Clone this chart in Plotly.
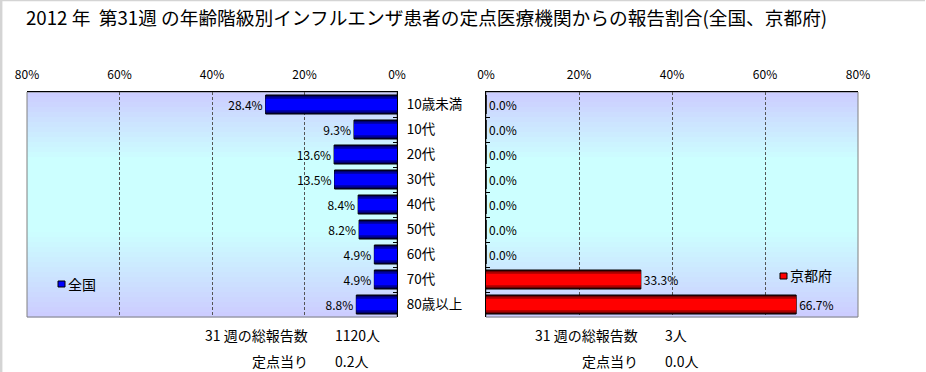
import plotly.graph_objects as go

# ---------------- data ----------------
categories = ["10歳未満", "10代", "20代", "30代", "40代", "50代", "60代", "70代", "80歳以上"]
national = [28.4, 9.3, 13.6, 13.5, 8.4, 8.2, 4.9, 4.9, 8.8]
kyoto = [0.0, 0.0, 0.0, 0.0, 0.0, 0.0, 0.0, 33.3, 66.7]
tick_vals = [0, 20, 40, 60, 80]
tick_text = ["0%", "20%", "40%", "60%", "80%"]
title_text = "2012 年  第31週 の年齢階級別インフルエンザ患者の定点医療機関からの報告割合(全国、京都府)"
series_names = ["全国", "京都府"]
total_label = "31 週の総報告数"
per_label = "定点当り"
national_total = "1120人"
national_per = "0.2人"
kyoto_total = "3人"
kyoto_per = "0.0人"

# ---------------- layout constants ----------------
W, H = 926, 372
FONT = "Noto Sans CJK JP, Noto Sans, sans-serif"
LX0, LX1 = 27, 397
RX0, RX1 = 486, 858
PY0, PY1 = 92, 317


def px_x(v):
    return v / W


def px_y(v):
    return 1 - v / H


fig = go.Figure()

# bar layers imitate the shaded (gradient) bars
blue_layers = [(0.76, "#000040", 1), (0.64, "#00009C", 0), (0.46, "#0000FF", 0)]
red_layers = [(0.76, "#400000", 1), (0.64, "#A80000", 0), (0.46, "#FF0000", 0)]

for i, (w, c, lw) in enumerate(blue_layers):
    fig.add_trace(go.Bar(
        x=national, y=categories, orientation="h", xaxis="x", yaxis="y",
        width=w, marker=dict(color=c, line=dict(color="black", width=lw)),
        text=[f"{v:.1f}%" for v in national] if i == 0 else None,
        textposition="outside" if i == 0 else "none",
        textfont=dict(family=FONT, size=12, color="black"),
        cliponaxis=False, showlegend=False, name=series_names[0],
        hoverinfo="x+y",
    ))
for i, (w, c, lw) in enumerate(red_layers):
    fig.add_trace(go.Bar(
        x=kyoto, y=categories, orientation="h", xaxis="x2", yaxis="y2",
        width=w, marker=dict(color=c, line=dict(color="black", width=lw)),
        text=[f"{v:.1f}%" for v in kyoto] if i == 0 else None,
        textposition="outside" if i == 0 else "none",
        textfont=dict(family=FONT, size=12, color="black"),
        cliponaxis=False, showlegend=False, name=series_names[1],
        hoverinfo="x+y",
    ))

shapes = []
# gradient plot backgrounds
stops = [(0.0, (204, 204, 255)), (0.30, (204, 255, 255)), (0.62, (204, 255, 255)), (1.0, (204, 204, 255))]


def col_at(t):
    for (t0, c0), (t1, c1) in zip(stops[:-1], stops[1:]):
        if t0 <= t <= t1:
            f = (t - t0) / (t1 - t0) if t1 > t0 else 0
            return "rgb(%d,%d,%d)" % tuple(round(a + (b - a) * f) for a, b in zip(c0, c1))
    return "rgb(204,204,255)"


N = 45
for xr, yr in (("x domain", "y domain"), ("x2 domain", "y2 domain")):
    for k in range(N):
        t = (k + 0.5) / N
        shapes.append(dict(type="rect", xref=xr, yref=yr, x0=0, x1=1,
                           y0=1 - k / N, y1=1 - (k + 1) / N - 0.002,
                           fillcolor=col_at(t), line=dict(width=0), layer="below"))
    shapes.append(dict(type="rect", xref=xr, yref=yr, x0=0, x1=1, y0=0, y1=1,
                       line=dict(color="#808080", width=1), layer="below"))

# page border (top / left)
shapes.append(dict(type="line", xref="paper", yref="paper", x0=0, x1=925 / W, y0=0.999, y1=0.999,
                   line=dict(color="#D4D4D4", width=2)))
shapes.append(dict(type="line", xref="paper", yref="paper", x0=0.001, x1=0.001, y0=0, y1=1,
                   line=dict(color="#D4D4D4", width=3)))

# legend squares
shapes.append(dict(type="rect", xref="paper", yref="paper",
                   x0=px_x(58), x1=px_x(65), y0=px_y(287), y1=px_y(281),
                   fillcolor="#0000FF", line=dict(color="black", width=1)))
shapes.append(dict(type="rect", xref="paper", yref="paper",
                   x0=px_x(780), x1=px_x(787), y0=px_y(279), y1=px_y(273),
                   fillcolor="#FF0000", line=dict(color="black", width=1)))

ann = []
ann.append(dict(text=title_text, x=px_x(24), y=px_y(17), xref="paper", yref="paper",
                xanchor="left", yanchor="middle", showarrow=False,
                font=dict(family=FONT, size=18.7, color="black")))
ann.append(dict(text=series_names[0], x=px_x(66), y=px_y(284), xref="paper", yref="paper",
                xanchor="left", yanchor="middle", showarrow=False,
                font=dict(family=FONT, size=14, color="black")))
ann.append(dict(text=series_names[1], x=px_x(788), y=px_y(275), xref="paper", yref="paper",
                xanchor="left", yanchor="middle", showarrow=False,
                font=dict(family=FONT, size=14, color="black")))
for lab_x, val_x, tot, per in ((310, 333, national_total, national_per),
                               (640, 663, kyoto_total, kyoto_per)):
    ann.append(dict(text=total_label, x=px_x(lab_x), y=px_y(335), xref="paper", yref="paper",
                    xanchor="right", yanchor="middle", showarrow=False,
                    font=dict(family=FONT, size=14, color="black")))
    ann.append(dict(text=tot, x=px_x(val_x), y=px_y(335), xref="paper", yref="paper",
                    xanchor="left", yanchor="middle", showarrow=False,
                    font=dict(family=FONT, size=14, color="black")))
    ann.append(dict(text=per_label, x=px_x(lab_x), y=px_y(361), xref="paper", yref="paper",
                    xanchor="right", yanchor="middle", showarrow=False,
                    font=dict(family=FONT, size=14, color="black")))
    ann.append(dict(text=per, x=px_x(val_x), y=px_y(361), xref="paper", yref="paper",
                    xanchor="left", yanchor="middle", showarrow=False,
                    font=dict(family=FONT, size=14, color="black")))

xcommon = dict(tickvals=tick_vals, ticktext=tick_text, side="top", showgrid=True,
               gridcolor="#555555", griddash="3px,2px", gridwidth=1, zeroline=False,
               showline=True, linecolor="black", linewidth=1, ticks="",
               ticklabelstandoff=7, fixedrange=True, automargin=False,
               tickfont=dict(family=FONT, size=12, color="black"))

fig.update_layout(
    width=W, height=H, autosize=False,
    margin=dict(l=0, r=0, t=0, b=0, pad=0, autoexpand=False),
    paper_bgcolor="white", plot_bgcolor="rgba(0,0,0,0)",
    barmode="overlay", bargap=0.24,
    showlegend=False,
    font=dict(family=FONT, size=12, color="black"),
    xaxis=dict(domain=[px_x(LX0), px_x(LX1)], range=[80, 0], anchor="y", **xcommon),
    xaxis2=dict(domain=[px_x(RX0), px_x(RX1)], range=[0, 80], anchor="y2", **xcommon),
    yaxis=dict(domain=[px_y(PY1), px_y(PY0)], anchor="x", side="right",
               categoryorder="array", categoryarray=categories, autorange="reversed",
               showline=True, linecolor="black", linewidth=1, showgrid=False,
               ticks="inside", ticklen=4, tickcolor="black", tickson="boundaries",
               ticklabelstandoff=6, fixedrange=True, automargin=False,
               tickfont=dict(family=FONT, size=13.5, color="black")),
    yaxis2=dict(domain=[px_y(PY1), px_y(PY0)], anchor="x2", side="left",
                categoryorder="array", categoryarray=categories, autorange="reversed",
                showline=True, linecolor="black", linewidth=1, showgrid=False,
                ticks="inside", ticklen=4, tickcolor="black", tickson="boundaries",
                showticklabels=False, fixedrange=True, automargin=False),
    shapes=shapes,
    annotations=ann,
)

fig.write_html(
    "out.html",
    config={"responsive": False, "displayModeBar": False},
    default_width="926px", default_height="372px",
    post_script="document.body.style.margin='0';document.body.style.overflow='hidden';",
)
